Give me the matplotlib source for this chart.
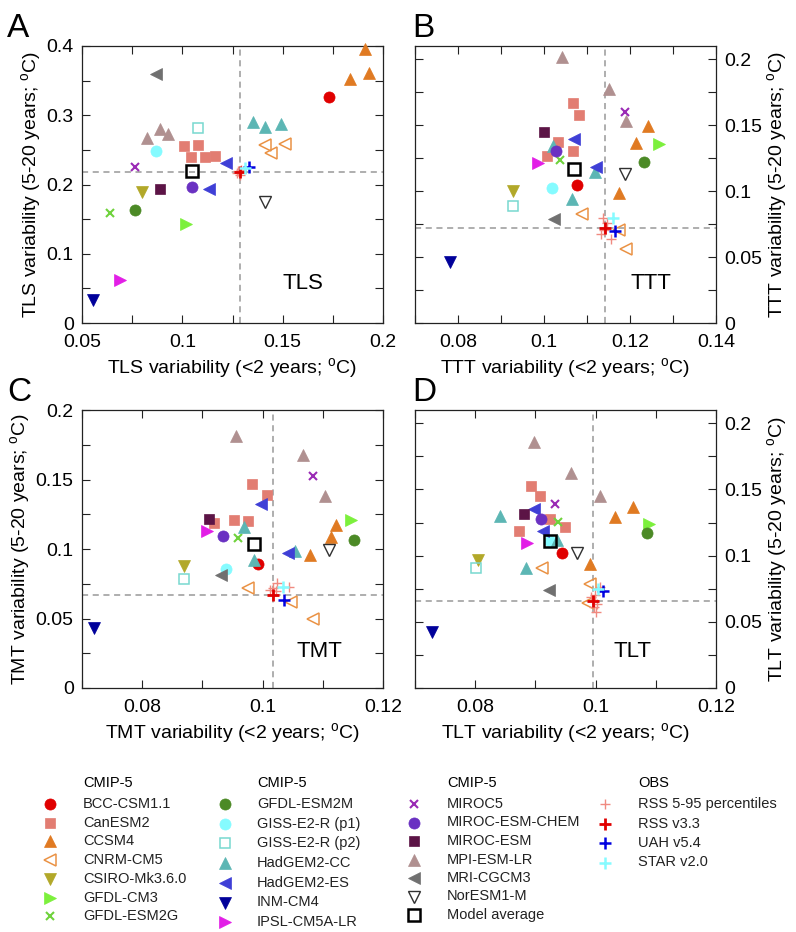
import matplotlib.pyplot as plt
from matplotlib.ticker import MultipleLocator, FuncFormatter

plt.rcParams['font.family'] = ['Liberation Sans', 'DejaVu Sans']
plt.rcParams['mathtext.fontset'] = 'custom'
plt.rcParams['mathtext.rm'] = 'Liberation Sans'

# ---- data: (short-term variability, long-term variability) per point ----
TLS_NAME = ['BCC-CSM1.1',
            'CanESM2', 'CanESM2', 'CanESM2', 'CanESM2', 'CanESM2',
            'CCSM4', 'CCSM4', 'CCSM4',
            'CNRM-CM5', 'CNRM-CM5', 'CNRM-CM5',
            'CSIRO-Mk3.6.0', 'GFDL-CM3', 'GFDL-ESM2G', 'GFDL-ESM2M',
            'GISS-E2-R (p1)', 'GISS-E2-R (p2)',
            'HadGEM2-CC', 'HadGEM2-CC', 'HadGEM2-CC',
            'HadGEM2-ES', 'HadGEM2-ES',
            'INM-CM4', 'IPSL-CM5A-LR', 'MIROC5', 'MIROC-ESM-CHEM', 'MIROC-ESM',
            'MPI-ESM-LR', 'MPI-ESM-LR', 'MPI-ESM-LR',
            'MRI-CGCM3', 'NorESM1-M', 'Model average',
            'RSS 5-95 percentiles', 'RSS 5-95 percentiles', 'RSS 5-95 percentiles', 'RSS 5-95 percentiles',
            'RSS v3.3', 'UAH v5.4', 'STAR v2.0']
TLS_SHORT = [0.173,
             0.1008, 0.1078, 0.1042, 0.1111, 0.1164,
             0.191, 0.1837, 0.1929,
             0.1414, 0.1513, 0.1443,
             0.080, 0.102, 0.0638, 0.0766,
             0.087, 0.1078,
             0.1352, 0.1414, 0.149,
             0.1219, 0.1133,
             0.0555, 0.0691, 0.0762, 0.105, 0.0887,
             0.0824, 0.089, 0.0929,
             0.087, 0.141, 0.105,
             0.1279, 0.1274, 0.1287, 0.1292,
             0.1287, 0.1334, 0.1312]
TLS_LONG = [0.327,
            0.256, 0.257, 0.240, 0.240, 0.2414,
            0.396, 0.352, 0.361,
            0.257, 0.258, 0.246,
            0.189, 0.143, 0.1595, 0.163,
            0.249, 0.282,
            0.2896, 0.2824, 0.287,
            0.2313, 0.1928,
            0.0337, 0.0627, 0.2246, 0.1957, 0.1933,
            0.2665, 0.2795, 0.273,
            0.360, 0.175, 0.2198,
            0.2201, 0.2163, 0.2143, 0.2210,
            0.2185, 0.2248, 0.2234]

TTT_NAME = ['BCC-CSM1.1',
            'CanESM2', 'CanESM2', 'CanESM2', 'CanESM2', 'CanESM2',
            'CCSM4', 'CCSM4', 'CCSM4',
            'CNRM-CM5', 'CNRM-CM5', 'CNRM-CM5',
            'CSIRO-Mk3.6.0', 'GFDL-CM3', 'GFDL-ESM2G', 'GFDL-ESM2M',
            'GISS-E2-R (p1)', 'GISS-E2-R (p2)',
            'HadGEM2-CC', 'HadGEM2-CC', 'HadGEM2-CC',
            'HadGEM2-ES', 'HadGEM2-ES',
            'INM-CM4', 'IPSL-CM5A-LR', 'MIROC5', 'MIROC-ESM-CHEM', 'MIROC-ESM',
            'MPI-ESM-LR', 'MPI-ESM-LR', 'MPI-ESM-LR',
            'MRI-CGCM3', 'NorESM1-M', 'Model average',
            'RSS 5-95 percentiles', 'RSS 5-95 percentiles', 'RSS 5-95 percentiles',
            'RSS 5-95 percentiles', 'RSS 5-95 percentiles',
            'RSS v3.3', 'UAH v5.4', 'STAR v2.0']
TTT_SHORT = [0.1076,
             0.1067, 0.1081, 0.1033, 0.1007, 0.1067,
             0.1243, 0.1214, 0.1174,
             0.1088, 0.1175, 0.1191,
             0.0929, 0.1268, 0.1037, 0.1233,
             0.1019, 0.0929,
             0.102, 0.1065, 0.1119,
             0.107, 0.112,
             0.0781, 0.0985, 0.1188, 0.1028, 0.0999,
             0.1043, 0.115, 0.119,
             0.1024, 0.1189, 0.107,
             0.1137, 0.1147, 0.1132, 0.1155, 0.1140,
             0.1141, 0.1165, 0.116]
TTT_LONG = [0.105,
            0.167, 0.1577, 0.1375, 0.1268, 0.1304,
            0.1496, 0.1367, 0.0987,
            0.0826, 0.0705, 0.056,
            0.1003, 0.1357, 0.1235, 0.1223,
            0.102, 0.0889,
            0.134, 0.0939, 0.1142,
            0.1392, 0.1185,
            0.0463, 0.121, 0.160, 0.1306, 0.1446,
            0.2013, 0.1775, 0.1534,
            0.0792, 0.1129, 0.1167,
            0.0793, 0.076, 0.0674, 0.0634, 0.0705,
            0.0722, 0.0699, 0.0793]

TMT_NAME = TTT_NAME
TMT_SHORT = [0.0993,
             0.0982, 0.1008, 0.092, 0.0952, 0.0976,
             0.1122, 0.1113, 0.1078,
             0.0975, 0.1048, 0.1084,
             0.0869, 0.1147, 0.0959, 0.1152,
             0.094, 0.0869,
             0.0969, 0.0985, 0.1054,
             0.0997, 0.1043,
             0.072, 0.0907, 0.1083, 0.0935, 0.0911,
             0.0955, 0.1067, 0.1103,
             0.0931, 0.1111, 0.0986,
             0.1024, 0.1044, 0.1018, 0.1022, 0.1012,
             0.1017, 0.1036, 0.1034]
TMT_LONG = [0.0892,
            0.1465, 0.1388, 0.1184, 0.1208, 0.1203,
            0.1176, 0.1088, 0.0956,
            0.0717, 0.0621, 0.0495,
            0.0879, 0.1208, 0.108, 0.1064,
            0.0855, 0.0783,
            0.116, 0.0921, 0.0988,
            0.1323, 0.0973,
            0.0432, 0.1128, 0.1527, 0.1092, 0.1215,
            0.1813, 0.1676, 0.1383,
            0.0816, 0.0992, 0.1035,
            0.0758, 0.0729, 0.0717, 0.070, 0.0705,
            0.0669, 0.0633, 0.0729]

TLT_NAME = TTT_NAME[:34] + ['RSS 5-95 percentiles'] * 6 + ['RSS v3.3', 'UAH v5.4', 'STAR v2.0']
TLT_SHORT = [0.0945,
             0.0892, 0.0907, 0.0924, 0.0949, 0.0873,
             0.1062, 0.1032, 0.0991,
             0.0911, 0.099, 0.0987,
             0.0804, 0.1089, 0.0938, 0.1085,
             0.0924, 0.0802,
             0.0842, 0.0884, 0.0936,
             0.0897, 0.0913,
             0.0729, 0.0886, 0.0933, 0.0909, 0.0881,
             0.0898, 0.0959, 0.1007,
             0.0923, 0.0969, 0.0924,
             0.1007, 0.0999, 0.0992, 0.1002, 0.0998, 0.1001,
             0.0996, 0.1012, 0.1004]
TLT_LONG = [0.1017,
            0.1528, 0.145, 0.1274, 0.1218, 0.1188,
            0.1369, 0.129, 0.0937,
            0.0904, 0.0785, 0.064,
            0.0966, 0.1238, 0.1251, 0.1173,
            0.111, 0.0903,
            0.1301, 0.0904, 0.1118,
            0.135, 0.1186,
            0.0424, 0.1093, 0.139, 0.1274, 0.1314,
            0.1861, 0.1622, 0.145,
            0.074, 0.1017, 0.111,
            0.0765, 0.0702, 0.0685, 0.0634, 0.0614, 0.0576,
            0.0659, 0.0735, 0.0745]

# ---- marker styles ----
STYLE = {
    'BCC-CSM1.1': dict(marker='o', color='#e00000', ms=8),
    'CanESM2': dict(marker='s', color='#e27d72', ms=7),
    'CCSM4': dict(marker='^', color='#e07a22', ms=8.5),
    'CNRM-CM5': dict(marker='<', color='#ea9245', ms=8, mfc='none', mew=1.1),
    'CSIRO-Mk3.6.0': dict(marker='v', color='#b2a829', ms=8.5),
    'GFDL-CM3': dict(marker='>', color='#7cf03c', ms=8.5),
    'GFDL-ESM2G': dict(marker='x', color='#6fd23c', ms=6, mew=1.5),
    'GFDL-ESM2M': dict(marker='o', color='#4c8a26', ms=8),
    'GISS-E2-R (p1)': dict(marker='o', color='#85fbff', ms=8),
    'GISS-E2-R (p2)': dict(marker='s', color='#78d8d0', ms=7, mfc='none', mew=1.1),
    'HadGEM2-CC': dict(marker='^', color='#5cb6b4', ms=8.5),
    'HadGEM2-ES': dict(marker='<', color='#3f3fd6', ms=8.5),
    'INM-CM4': dict(marker='v', color='#00009a', ms=8.5),
    'IPSL-CM5A-LR': dict(marker='>', color='#e21ee6', ms=8.5),
    'MIROC5': dict(marker='x', color='#9a2ab5', ms=6, mew=1.5),
    'MIROC-ESM-CHEM': dict(marker='o', color='#6a31c2', ms=8),
    'MIROC-ESM': dict(marker='s', color='#5c1446', ms=7),
    'MPI-ESM-LR': dict(marker='^', color='#b09090', ms=8.5),
    'MRI-CGCM3': dict(marker='<', color='#707070', ms=8.5),
    'NorESM1-M': dict(marker='v', color='#303030', ms=8, mfc='none', mew=1),
    'Model average': dict(marker='s', color='black', ms=8.5, mfc='none', mew=1.8),
    'RSS 5-95 percentiles': dict(marker='+', color='#f08a80', ms=6.5, mew=1),
    'RSS v3.3': dict(marker='+', color='#e00000', ms=8, mew=2),
    'UAH v5.4': dict(marker='+', color='#0000e0', ms=8, mew=1.8),
    'STAR v2.0': dict(marker='+', color='#85fbff', ms=8, mew=1.8),
}

LEGEND_COLS = [
    ('CMIP-5', ['BCC-CSM1.1', 'CanESM2', 'CCSM4', 'CNRM-CM5', 'CSIRO-Mk3.6.0',
                'GFDL-CM3', 'GFDL-ESM2G']),
    ('CMIP-5', ['GFDL-ESM2M', 'GISS-E2-R (p1)', 'GISS-E2-R (p2)', 'HadGEM2-CC',
                'HadGEM2-ES', 'INM-CM4', 'IPSL-CM5A-LR']),
    ('CMIP-5', ['MIROC5', 'MIROC-ESM-CHEM', 'MIROC-ESM', 'MPI-ESM-LR', 'MRI-CGCM3',
                'NorESM1-M', 'Model average']),
    ('OBS', ['RSS 5-95 percentiles', 'RSS v3.3', 'UAH v5.4', 'STAR v2.0']),
]
ORDER = [n for _, names in LEGEND_COLS for n in names]


def mk(name):
    st = STYLE[name]
    return dict(marker=st['marker'], ms=st['ms'], mec=st['color'],
                mfc=st.get('mfc', st['color']), mew=st.get('mew', 0.5),
                linestyle='none')


W, H = 796, 932
fig = plt.figure(figsize=(W / 100, H / 100), dpi=100)

# overlay in pixel coords for the legend
lax = fig.add_axes([0, 0, 1, 1])
lax.set_xlim(0, W)
lax.set_ylim(H, 0)
lax.axis('off')


def px_axes(l, t, r, b):
    return fig.add_axes([l / W, 1 - b / H, (r - l) / W, (b - t) / H])


deg = r'$^{\rm o}$C)'
panels = [
    ('A', 7, 'TLS', (82, 46, 383, 323), (0.05, 0.2), (0, 0.4), 0.05, 0.025, 0.1, 0.05, False,
     TLS_NAME, TLS_SHORT, TLS_LONG, (0.734, 0.144)),
    ('B', 412, 'TTT', (415, 46, 716, 323), (0.07, 0.14), (0, 0.21), 0.02, 0.01, 0.05, 0.025, True,
     TTT_NAME, TTT_SHORT, TTT_LONG, (0.784, 0.144)),
    ('C', 7, 'TMT', (82, 410, 383, 688), (0.07, 0.12), (0, 0.2), 0.02, 0.01, 0.05, 0.025, False,
     TMT_NAME, TMT_SHORT, TMT_LONG, (0.79, 0.13)),
    ('D', 412, 'TLT', (415, 410, 716, 688), (0.07, 0.12), (0, 0.21), 0.02, 0.01, 0.05, 0.025, True,
     TLT_NAME, TLT_SHORT, TLT_LONG, (0.724, 0.13)),
]

fmt = FuncFormatter(lambda v, p: '{:g}'.format(round(v, 4)))

for letter, lx, var, box, xl, yl, xmaj, xmin, ymaj, ymin, right, names, xs, ys, tpos in panels:
    ax = px_axes(*box)
    ax.set_xlim(*xl)
    ax.set_ylim(*yl)
    ax.xaxis.set_major_locator(MultipleLocator(xmaj))
    ax.xaxis.set_minor_locator(MultipleLocator(xmin))
    ax.yaxis.set_major_locator(MultipleLocator(ymaj))
    ax.yaxis.set_minor_locator(MultipleLocator(ymin))
    ax.xaxis.set_major_formatter(fmt)
    ax.yaxis.set_major_formatter(fmt)
    ax.tick_params(which='both', direction='in', top=True, right=True, left=True,
                   length=6, width=0.8, labelsize=14, pad=6, colors='#222222',
                   labelcolor='black')
    ax.tick_params(axis='x', pad=8)
    for s in ax.spines.values():
        s.set_linewidth(0.9)
        s.set_color('#222222')
    if right:
        ax.tick_params(axis='y', labelleft=False, labelright=True)
        ax.yaxis.set_label_position('right')

    # dashed guide lines through RSS v3.3
    i_rss = names.index('RSS v3.3')
    ax.axvline(xs[i_rss], color='#999999', lw=1.1, ls=(0, (4, 3)), zorder=1)
    ax.axhline(ys[i_rss], color='#999999', lw=1.1, ls=(0, (4, 3)), zorder=1)

    for n in ORDER:
        px = [x for x, nm in zip(xs, names) if nm == n]
        py = [y for y, nm in zip(ys, names) if nm == n]
        if px:
            ax.plot(px, py, zorder=3, clip_on=False, **mk(n))

    ax.text(tpos[0], tpos[1], var, transform=ax.transAxes, fontsize=16,
            ha='center', va='center')
    ax.set_xlabel(var + ' variability (<2 years; ' + deg, fontsize=14, labelpad=4)
    ax.set_ylabel(var + ' variability (5-20 years; ' + deg, fontsize=14, labelpad=2)
    fig.text(lx / W, 1 - (box[1] - 9) / H, letter, fontsize=24,
             ha='left', va='baseline')

# ---- legend ----
col_mx = [50, 225, 414, 605]
col_tx = [83, 257, 447, 638]
col_dy = [18.7, 19.7, 18.5, 19.5]
for (title, names), mx, tx, dy in zip(LEGEND_COLS, col_mx, col_tx, col_dy):
    lax.text(tx, 783, title, fontsize=10.5, ha='left', va='center')
    for k, n in enumerate(names):
        y = 804 + k * dy
        lax.plot([mx], [y], **mk(n))
        lax.text(tx, y, n, fontsize=10.5, ha='left', va='center', color='#222222')

fig.savefig('out.png', dpi=100)
